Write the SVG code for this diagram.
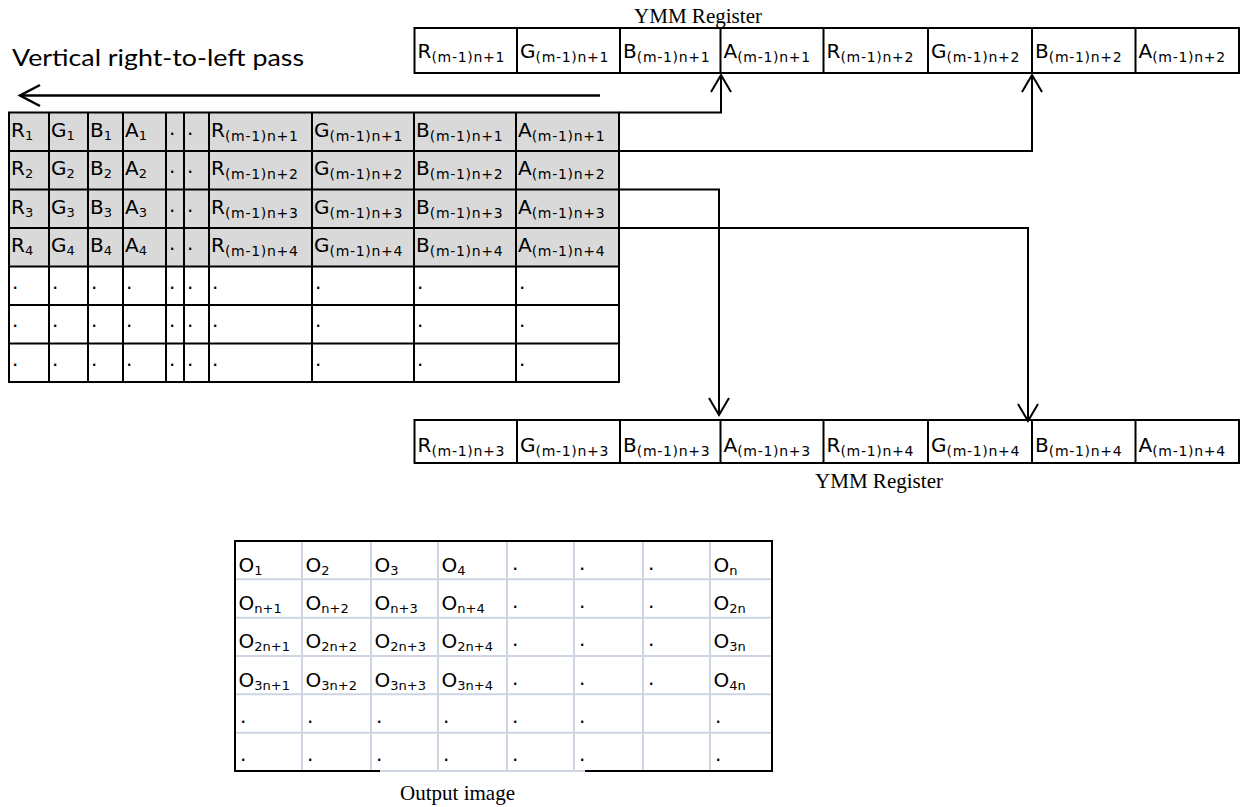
<svg xmlns="http://www.w3.org/2000/svg" width="1244" height="807" viewBox="0 0 1244 807">
<defs>
<style>
.t{font-family:"DejaVu Sans",Verdana,sans-serif;font-size:20px;fill:#000}
.s{font-size:14px;letter-spacing:0.7px}
.s1{font-size:13px}
.cap{font-family:"Liberation Serif","Times New Roman",serif;font-size:21px;fill:#000}
.title{font-family:Lato,"Open Sans",sans-serif;font-size:24px;fill:#000}
.box{fill:#fff;stroke:#000;stroke-width:2}
.grid{fill:none;stroke:#000;stroke-width:2}
.lgrid{fill:none;stroke:#cdd5e3;stroke-width:2}
.conn{fill:none;stroke:#000;stroke-width:2}
</style>
<marker id="arr" markerUnits="userSpaceOnUse" markerWidth="24" markerHeight="24" viewBox="-20 -12 24 24" refX="0" refY="0" orient="auto">
<path d="M-17,-10 L0,0 L-17,10" fill="none" stroke="#000" stroke-width="2"/>
</marker>
<marker id="arrL" markerUnits="userSpaceOnUse" markerWidth="26" markerHeight="26" viewBox="-23 -13 26 26" refX="0" refY="0" orient="auto">
<path d="M-20,-10.5 L0,0 L-20,10.5" fill="none" stroke="#000" stroke-width="2.5"/>
</marker>
</defs>

<rect width="1244" height="807" fill="#fff"/>

<!-- pass direction -->
<g id="pass-direction">
<text class="title" x="12" y="66" textLength="292" lengthAdjust="spacingAndGlyphs">Vertical right-to-left pass</text>
<path d="M600,95.5 H20" fill="none" stroke="#000" stroke-width="2.5" marker-end="url(#arrL)"/>
</g>

<!-- upper YMM register -->
<g id="ymm-upper">
<text class="cap" x="634" y="23" textLength="128" lengthAdjust="spacingAndGlyphs">YMM Register</text>
<rect class="box" x="414.5" y="28" width="824.5" height="45"/>
<path class="grid" d="M517,28V73 M620,28V73 M720.5,28V73 M823.5,28V73 M928,28V73 M1032,28V73 M1135.5,28V73"/>
<text class="t" x="417.5" y="58">R<tspan class="s" dy="4">(m-1)n+1</tspan></text>
<text class="t" x="520" y="58">G<tspan class="s" dy="4">(m-1)n+1</tspan></text>
<text class="t" x="623" y="58">B<tspan class="s" dy="4">(m-1)n+1</tspan></text>
<text class="t" x="723.5" y="58">A<tspan class="s" dy="4">(m-1)n+1</tspan></text>
<text class="t" x="826.5" y="58">R<tspan class="s" dy="4">(m-1)n+2</tspan></text>
<text class="t" x="931" y="58">G<tspan class="s" dy="4">(m-1)n+2</tspan></text>
<text class="t" x="1035" y="58">B<tspan class="s" dy="4">(m-1)n+2</tspan></text>
<text class="t" x="1138.5" y="58">A<tspan class="s" dy="4">(m-1)n+2</tspan></text>
</g>

<!-- source pixel table -->
<g id="pixel-table">
<rect x="9" y="112.5" width="610" height="154" fill="#d9d9d9"/>
<rect x="9" y="266.5" width="610" height="115.5" fill="#fff"/>
<path class="grid" d="M9,112.5H619V382H9Z M9,151H619 M9,189.5H619 M9,228H619 M9,266.5H619 M9,305H619 M9,343.5H619 M49,112.5V382 M88,112.5V382 M123,112.5V382 M166,112.5V382 M184,112.5V382 M209,112.5V382 M312,112.5V382 M414,112.5V382 M516,112.5V382"/>
<!-- row 1 -->
<text class="t" x="11" y="136.5">R<tspan class="s1" dy="3">1</tspan></text>
<text class="t" x="51" y="136.5">G<tspan class="s1" dy="3">1</tspan></text>
<text class="t" x="90" y="136.5">B<tspan class="s1" dy="3">1</tspan></text>
<text class="t" x="125" y="136.5">A<tspan class="s1" dy="3">1</tspan></text>
<text class="t" x="169" y="134.5">.</text>
<text class="t" x="187" y="134.5">.</text>
<text class="t" x="211" y="136.5">R<tspan class="s" dy="4">(m-1)n+1</tspan></text>
<text class="t" x="314" y="136.5">G<tspan class="s" dy="4">(m-1)n+1</tspan></text>
<text class="t" x="416" y="136.5">B<tspan class="s" dy="4">(m-1)n+1</tspan></text>
<text class="t" x="518" y="136.5">A<tspan class="s" dy="4">(m-1)n+1</tspan></text>
<!-- row 2 -->
<text class="t" x="11" y="175">R<tspan class="s1" dy="3">2</tspan></text>
<text class="t" x="51" y="175">G<tspan class="s1" dy="3">2</tspan></text>
<text class="t" x="90" y="175">B<tspan class="s1" dy="3">2</tspan></text>
<text class="t" x="125" y="175">A<tspan class="s1" dy="3">2</tspan></text>
<text class="t" x="169" y="173">.</text>
<text class="t" x="187" y="173">.</text>
<text class="t" x="211" y="175">R<tspan class="s" dy="4">(m-1)n+2</tspan></text>
<text class="t" x="314" y="175">G<tspan class="s" dy="4">(m-1)n+2</tspan></text>
<text class="t" x="416" y="175">B<tspan class="s" dy="4">(m-1)n+2</tspan></text>
<text class="t" x="518" y="175">A<tspan class="s" dy="4">(m-1)n+2</tspan></text>
<!-- row 3 -->
<text class="t" x="11" y="213.5">R<tspan class="s1" dy="3">3</tspan></text>
<text class="t" x="51" y="213.5">G<tspan class="s1" dy="3">3</tspan></text>
<text class="t" x="90" y="213.5">B<tspan class="s1" dy="3">3</tspan></text>
<text class="t" x="125" y="213.5">A<tspan class="s1" dy="3">3</tspan></text>
<text class="t" x="169" y="211.5">.</text>
<text class="t" x="187" y="211.5">.</text>
<text class="t" x="211" y="213.5">R<tspan class="s" dy="4">(m-1)n+3</tspan></text>
<text class="t" x="314" y="213.5">G<tspan class="s" dy="4">(m-1)n+3</tspan></text>
<text class="t" x="416" y="213.5">B<tspan class="s" dy="4">(m-1)n+3</tspan></text>
<text class="t" x="518" y="213.5">A<tspan class="s" dy="4">(m-1)n+3</tspan></text>
<!-- row 4 -->
<text class="t" x="11" y="252">R<tspan class="s1" dy="3">4</tspan></text>
<text class="t" x="51" y="252">G<tspan class="s1" dy="3">4</tspan></text>
<text class="t" x="90" y="252">B<tspan class="s1" dy="3">4</tspan></text>
<text class="t" x="125" y="252">A<tspan class="s1" dy="3">4</tspan></text>
<text class="t" x="169" y="250">.</text>
<text class="t" x="187" y="250">.</text>
<text class="t" x="211" y="252">R<tspan class="s" dy="4">(m-1)n+4</tspan></text>
<text class="t" x="314" y="252">G<tspan class="s" dy="4">(m-1)n+4</tspan></text>
<text class="t" x="416" y="252">B<tspan class="s" dy="4">(m-1)n+4</tspan></text>
<text class="t" x="518" y="252">A<tspan class="s" dy="4">(m-1)n+4</tspan></text>
<!-- rows 5-7: continuation dots -->
<g class="t">
<text x="12" y="288.5">.</text><text x="52" y="288.5">.</text><text x="91" y="288.5">.</text><text x="126" y="288.5">.</text><text x="169" y="288.5">.</text><text x="187" y="288.5">.</text><text x="212" y="288.5">.</text><text x="315" y="288.5">.</text><text x="417" y="288.5">.</text><text x="519" y="288.5">.</text>
<text x="12" y="327">.</text><text x="52" y="327">.</text><text x="91" y="327">.</text><text x="126" y="327">.</text><text x="169" y="327">.</text><text x="187" y="327">.</text><text x="212" y="327">.</text><text x="315" y="327">.</text><text x="417" y="327">.</text><text x="519" y="327">.</text>
<text x="12" y="365.5">.</text><text x="52" y="365.5">.</text><text x="91" y="365.5">.</text><text x="126" y="365.5">.</text><text x="169" y="365.5">.</text><text x="187" y="365.5">.</text><text x="212" y="365.5">.</text><text x="315" y="365.5">.</text><text x="417" y="365.5">.</text><text x="519" y="365.5">.</text>
</g>
</g>

<!-- lower YMM register -->
<g id="ymm-lower">
<rect class="box" x="414.5" y="420" width="824.5" height="43"/>
<path class="grid" d="M517,420V463 M620,420V463 M720.5,420V463 M823.5,420V463 M928,420V463 M1032,420V463 M1135.5,420V463"/>
<text class="t" x="417.5" y="452">R<tspan class="s" dy="4">(m-1)n+3</tspan></text>
<text class="t" x="520" y="452">G<tspan class="s" dy="4">(m-1)n+3</tspan></text>
<text class="t" x="623" y="452">B<tspan class="s" dy="4">(m-1)n+3</tspan></text>
<text class="t" x="723.5" y="452">A<tspan class="s" dy="4">(m-1)n+3</tspan></text>
<text class="t" x="826.5" y="452">R<tspan class="s" dy="4">(m-1)n+4</tspan></text>
<text class="t" x="931" y="452">G<tspan class="s" dy="4">(m-1)n+4</tspan></text>
<text class="t" x="1035" y="452">B<tspan class="s" dy="4">(m-1)n+4</tspan></text>
<text class="t" x="1138.5" y="452">A<tspan class="s" dy="4">(m-1)n+4</tspan></text>
<text class="cap" x="815" y="488" textLength="128" lengthAdjust="spacingAndGlyphs">YMM Register</text>
</g>

<!-- row-to-register transfers -->
<g id="connectors">
<path class="conn" d="M619,112.5 H721 V75" marker-end="url(#arr)"/>
<path class="conn" d="M619,151 H1032 V75" marker-end="url(#arr)"/>
<path class="conn" d="M619,189.5 H719 V415" marker-end="url(#arr)"/>
<path class="conn" d="M619,228 H1028 V421" marker-end="url(#arr)"/>
</g>

<!-- output image grid -->
<g id="output-image">
<rect x="235" y="541" width="537" height="230" fill="#fff"/>
<path class="lgrid" d="M235,579.3H772 M235,617.7H772 M235,656H772 M235,694.3H772 M235,732.7H772 M302,541V771 M371,541V771 M438,541V771 M507,541V771 M574,541V771 M643,541V771 M710,541V771 M380,771H585"/>
<path class="grid" d="M380,771H235V541H772V771H585"/>
<!-- row 1 -->
<text class="t" x="238.5" y="571.5">O<tspan class="s1" dy="3">1</tspan></text>
<text class="t" x="305.5" y="571.5">O<tspan class="s1" dy="3">2</tspan></text>
<text class="t" x="374.5" y="571.5">O<tspan class="s1" dy="3">3</tspan></text>
<text class="t" x="441.5" y="571.5">O<tspan class="s1" dy="3">4</tspan></text>
<text class="t" x="713.5" y="571.5">O<tspan class="s1" dy="3">n</tspan></text>
<!-- row 2 -->
<text class="t" x="238.5" y="609.8">O<tspan class="s1" dy="3">n+1</tspan></text>
<text class="t" x="305.5" y="609.8">O<tspan class="s1" dy="3">n+2</tspan></text>
<text class="t" x="374.5" y="609.8">O<tspan class="s1" dy="3">n+3</tspan></text>
<text class="t" x="441.5" y="609.8">O<tspan class="s1" dy="3">n+4</tspan></text>
<text class="t" x="713.5" y="609.8">O<tspan class="s1" dy="3">2n</tspan></text>
<!-- row 3 -->
<text class="t" x="238.5" y="648.2">O<tspan class="s1" dy="3">2n+1</tspan></text>
<text class="t" x="305.5" y="648.2">O<tspan class="s1" dy="3">2n+2</tspan></text>
<text class="t" x="374.5" y="648.2">O<tspan class="s1" dy="3">2n+3</tspan></text>
<text class="t" x="441.5" y="648.2">O<tspan class="s1" dy="3">2n+4</tspan></text>
<text class="t" x="713.5" y="648.2">O<tspan class="s1" dy="3">3n</tspan></text>
<!-- row 4 -->
<text class="t" x="238.5" y="686.5">O<tspan class="s1" dy="3">3n+1</tspan></text>
<text class="t" x="305.5" y="686.5">O<tspan class="s1" dy="3">3n+2</tspan></text>
<text class="t" x="374.5" y="686.5">O<tspan class="s1" dy="3">3n+3</tspan></text>
<text class="t" x="441.5" y="686.5">O<tspan class="s1" dy="3">3n+4</tspan></text>
<text class="t" x="713.5" y="686.5">O<tspan class="s1" dy="3">4n</tspan></text>
<g class="t">
<text x="512" y="569.5">.</text><text x="579" y="569.5">.</text><text x="648" y="569.5">.</text>
<text x="512" y="607.8">.</text><text x="579" y="607.8">.</text><text x="648" y="607.8">.</text>
<text x="512" y="646.2">.</text><text x="579" y="646.2">.</text><text x="648" y="646.2">.</text>
<text x="512" y="684.5">.</text><text x="579" y="684.5">.</text><text x="648" y="684.5">.</text>
<text x="240" y="722.8">.</text><text x="307" y="722.8">.</text><text x="376" y="722.8">.</text><text x="443" y="722.8">.</text><text x="512" y="722.8">.</text><text x="579" y="722.8">.</text><text x="715" y="722.8">.</text>
<text x="240" y="761.2">.</text><text x="307" y="761.2">.</text><text x="376" y="761.2">.</text><text x="443" y="761.2">.</text><text x="512" y="761.2">.</text><text x="579" y="761.2">.</text><text x="715" y="761.2">.</text>
</g>
<text class="cap" x="400" y="800" textLength="115" lengthAdjust="spacingAndGlyphs">Output image</text>
</g>
</svg>
